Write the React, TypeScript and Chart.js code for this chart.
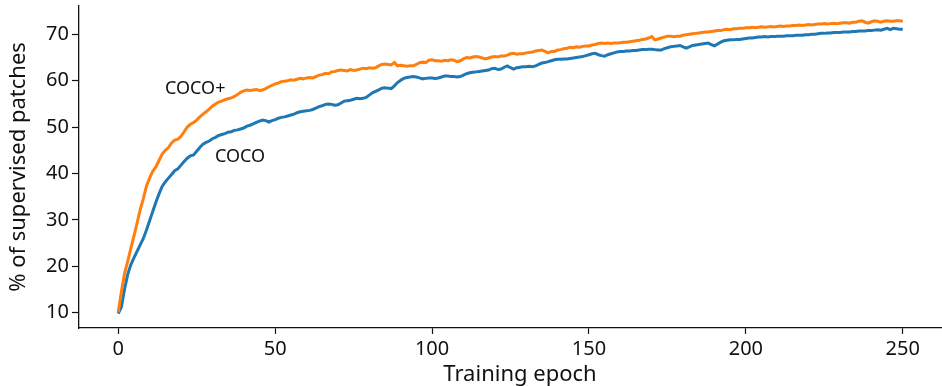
import React, { useEffect, useRef } from "react";
import { Chart, registerables } from "chart.js";

Chart.register(...registerables);

const X_TICKS = [0, 50, 100, 150, 200, 250];
const Y_TICKS = [10, 20, 30, 40, 50, 60, 70];
const X_TITLE = "Training epoch";
const Y_TITLE = "% of supervised patches";
const SERIES_NAMES = ["COCO+", "COCO"];

const EPOCHS = Array.from({ length: 251 }, (_, i) => i);

const COCO_PLUS = [
  10.1, 14.5, 18.4, 21.0, 23.8, 26.5, 29.3, 32.2, 34.6, 37.3,
  39.0, 40.5, 41.4, 42.8, 44.2, 45.0, 45.6, 46.6, 47.2, 47.4,
  48.0, 49.0, 50.0, 50.6, 51.0, 51.5, 52.2, 52.8, 53.3, 53.9,
  54.5, 55.0, 55.4, 55.6, 55.9, 56.1, 56.3, 56.6, 57.0, 57.5,
  57.8, 58.0, 57.9, 58.0, 58.1, 57.9, 58.0, 58.3, 58.7, 59.0,
  59.3, 59.5, 59.8, 59.9, 60.0, 60.2, 60.1, 60.3, 60.5, 60.4,
  60.6, 60.7, 60.6, 60.9, 61.2, 61.3, 61.6, 61.5, 61.9, 62.0,
  62.2, 62.3, 62.2, 62.1, 62.4, 62.2, 62.3, 62.5, 62.7, 62.6,
  62.8, 62.7, 62.8, 63.2, 63.5, 63.6, 63.5, 63.4, 63.9, 63.2,
  63.3, 63.2, 63.1, 63.2, 63.2, 63.5, 63.9, 64.0, 63.9, 64.4,
  64.5, 64.3, 64.3, 64.2, 64.4, 64.3, 64.5, 64.4, 64.1, 64.3,
  64.7, 65.0, 64.9, 65.1, 65.2, 65.1, 64.9, 64.7, 64.9, 65.1,
  65.2, 65.1, 65.3, 65.3, 65.5, 65.8, 65.9, 65.7, 65.8, 65.8,
  66.0, 66.1, 66.2, 66.4, 66.5, 66.6, 66.3, 66.0, 66.3, 66.3,
  66.6, 66.7, 66.9, 67.0, 67.2, 67.1, 67.3, 67.2, 67.4, 67.5,
  67.5, 67.7, 67.8, 68.0, 68.1, 68.0, 68.1, 68.0, 68.1, 68.1,
  68.2, 68.3, 68.3, 68.4, 68.5, 68.6, 68.7, 68.9, 69.0, 69.2,
  69.5, 68.8, 69.0, 69.2, 69.4, 69.6, 69.6, 69.5, 69.6, 69.6,
  69.8, 69.9, 70.0, 70.1, 70.2, 70.3, 70.4, 70.5, 70.5, 70.6,
  70.7, 70.8, 70.8, 71.0, 71.1, 71.0, 71.2, 71.2, 71.3, 71.3,
  71.4, 71.4, 71.5, 71.4, 71.5, 71.6, 71.5, 71.6, 71.7, 71.6,
  71.7, 71.8, 71.7, 71.8, 71.8, 71.9, 71.9, 72.0, 71.9, 72.0,
  72.1, 72.0, 72.1, 72.2, 72.2, 72.3, 72.2, 72.3, 72.4, 72.3,
  72.4, 72.5, 72.5, 72.4, 72.6, 72.6, 72.8, 72.9, 72.6, 72.4,
  72.7, 72.9, 72.8, 72.6, 72.8, 72.9, 72.8, 72.8, 72.9, 72.9,
  72.8,
];

const COCO = [
  9.8, 11.2, 15.0, 18.2, 20.3, 21.8, 23.2, 24.6, 26.0, 27.8,
  29.8, 31.8, 33.8, 35.6, 37.2, 38.2, 39.0, 39.8, 40.6, 41.0,
  41.8, 42.6, 43.3, 43.8, 44.0, 44.8, 45.6, 46.3, 46.7, 47.0,
  47.5, 47.8, 48.2, 48.4, 48.6, 48.9, 49.0, 49.3, 49.4, 49.6,
  49.8, 50.2, 50.4, 50.7, 51.0, 51.3, 51.5, 51.4, 51.1, 51.4,
  51.6, 51.9, 52.1, 52.2, 52.4, 52.6, 52.8, 53.1, 53.3, 53.4,
  53.5, 53.6, 53.8, 54.1, 54.4, 54.6, 54.9, 55.0, 54.9, 54.7,
  54.8, 55.2, 55.6, 55.7, 55.8, 56.0, 56.2, 56.1, 56.2, 56.4,
  56.9, 57.4, 57.7, 58.0, 58.4, 58.5, 58.4, 58.3, 58.9, 59.6,
  60.1, 60.5, 60.7, 60.8, 60.9, 60.8, 60.6, 60.4, 60.5, 60.6,
  60.6, 60.5, 60.6, 60.8, 61.0, 61.0, 60.9, 60.9, 60.8, 60.9,
  61.2, 61.5, 61.7, 61.8, 61.9, 62.0, 62.1, 62.2, 62.3, 62.6,
  62.7, 62.4, 62.5, 62.9, 63.2, 62.8, 62.5, 62.8, 62.9, 63.0,
  63.0, 63.1, 63.0, 63.2, 63.5, 63.8, 63.9, 64.1, 64.3, 64.5,
  64.6, 64.6, 64.7, 64.7, 64.8, 64.9, 65.0, 65.1, 65.2, 65.4,
  65.6, 65.8, 65.9, 65.6, 65.4, 65.3, 65.6, 65.8, 66.0, 66.2,
  66.3, 66.3, 66.4, 66.4, 66.5, 66.5, 66.6, 66.7, 66.7, 66.8,
  66.8, 66.7, 66.6, 66.6, 66.9, 67.1, 67.3, 67.4, 67.5, 67.6,
  67.3, 67.0, 67.3, 67.6, 67.7, 67.8, 67.9, 68.0, 68.1, 67.8,
  67.5, 67.9, 68.3, 68.6, 68.7, 68.8, 68.8, 68.9, 68.9, 69.0,
  69.1, 69.2, 69.2, 69.3, 69.4, 69.4, 69.5, 69.4, 69.5, 69.5,
  69.6, 69.6, 69.6, 69.7, 69.7, 69.7, 69.8, 69.8, 69.8, 69.9,
  69.9, 70.0, 70.0, 70.1, 70.2, 70.2, 70.3, 70.3, 70.4, 70.4,
  70.4, 70.5, 70.5, 70.5, 70.6, 70.6, 70.7, 70.7, 70.7, 70.8,
  70.8, 70.9, 71.0, 70.9, 71.1, 71.3, 71.0, 71.3, 71.2, 71.1,
  71.1,
];

const FONT = '"Noto Sans", "Open Sans", sans-serif';
const INK = "#111111";

const textPlugin = {
  id: "texts",
  afterDraw(chart: any) {
    const ctx = chart.ctx;
    ctx.save();
    ctx.fillStyle = INK;
    ctx.font = `18px ${FONT}`;
    ctx.textAlign = "left";
    ctx.textBaseline = "alphabetic";
    ctx.fillText(SERIES_NAMES[0], 165, 94);
    ctx.fillText(SERIES_NAMES[1], 215, 162);
    ctx.font = `22px ${FONT}`;
    ctx.textAlign = "center";
    ctx.fillText(X_TITLE, 520, 381);
    ctx.translate(25, 167);
    ctx.rotate(-Math.PI / 2);
    ctx.fillText(Y_TITLE, 0, 0);
    ctx.restore();
  },
};

export default function App() {
  const ref = useRef<HTMLCanvasElement | null>(null);
  useEffect(() => {
    if (!ref.current) return;
    const chart = new Chart(ref.current, {
      type: "line",
      data: {
        labels: EPOCHS,
        datasets: [
          {
            label: SERIES_NAMES[0],
            data: COCO_PLUS,
            borderColor: "#ff7f0e",
            borderWidth: 3,
            pointRadius: 0,
            tension: 0,
            fill: false,
          },
          {
            label: SERIES_NAMES[1],
            data: COCO,
            borderColor: "#1f77b4",
            borderWidth: 3,
            pointRadius: 0,
            tension: 0,
            fill: false,
          },
        ],
      },
      options: {
        animation: false,
        responsive: false,
        devicePixelRatio: 1,
        layout: { padding: { top: 6, right: 0, left: 0, bottom: 0 } },
        plugins: {
          legend: { display: false },
          tooltip: { enabled: false },
        },
        scales: {
          x: {
            type: "linear",
            min: -12.5,
            max: 262.5,
            afterFit: (s: any) => {
              s.height = 58;
              s.paddingLeft = 0;
              s.paddingRight = 0;
            },
            afterBuildTicks: (s: any) => {
              s.ticks = X_TICKS.map((v) => ({ value: v }));
            },
            grid: {
              display: true,
              drawOnChartArea: false,
              drawTicks: true,
              tickLength: 6,
              tickWidth: 1.2,
              tickColor: INK,
            },
            border: { display: true, color: INK, width: 1.3 },
            ticks: {
              color: INK,
              font: { family: FONT, size: 20 },
              padding: 3,
              maxRotation: 0,
              autoSkip: false,
            },
          },
          y: {
            type: "linear",
            min: 6.7,
            max: 76.1,
            afterFit: (s: any) => {
              s.width = 79;
              s.paddingTop = 0;
              s.paddingBottom = 0;
            },
            afterBuildTicks: (s: any) => {
              s.ticks = Y_TICKS.map((v) => ({ value: v }));
            },
            grid: {
              display: true,
              drawOnChartArea: false,
              drawTicks: true,
              tickLength: 7,
              tickWidth: 1.2,
              tickColor: INK,
            },
            border: { display: true, color: INK, width: 1.3 },
            ticks: {
              color: INK,
              font: { family: FONT, size: 20 },
              padding: 3,
              autoSkip: false,
            },
          },
        },
      },
      plugins: [textPlugin],
    });
    return () => chart.destroy();
  }, []);
  return (
    <div style={{ position: "fixed", left: 0, top: 0, width: 942, height: 386, background: "#fff" }}>
      <canvas ref={ref} width={942} height={386} style={{ display: "block" }} />
    </div>
  );
}
